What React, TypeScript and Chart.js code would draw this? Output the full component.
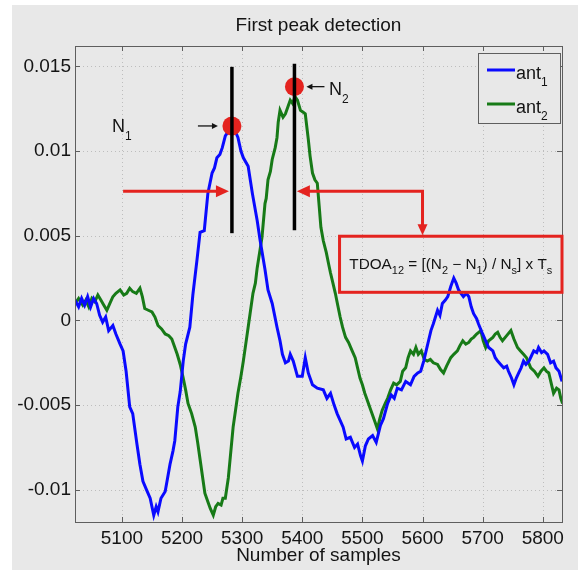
import React, { useEffect, useRef } from "react";
import { Chart, registerables } from "chart.js";

Chart.register(...registerables);

// ---------------- data ----------------
const ant1Samples = [5022,5028,5033,5038,5043,5048,5053,5058,5063,5068,5073,5078,5085,5090,5097,5102,5107,5113,5118,5125,5130,5135,5141,5147,5153,5157,5160,5165,5172,5176,5180,5185,5188,5193,5197,5202,5206,5213,5218,5225,5230,5237,5243,5250,5254,5258,5263,5267,5272,5278,5283,5288,5293,5298,5302,5310,5317,5325,5330,5338,5343,5350,5358,5363,5367,5372,5377,5380,5385,5392,5400,5405,5410,5417,5425,5435,5441,5447,5453,5458,5468,5473,5480,5487,5492,5497,5500,5505,5510,5517,5523,5530,5535,5542,5548,5553,5558,5565,5572,5580,5586,5592,5597,5602,5606,5610,5614,5618,5625,5629,5633,5638,5642,5647,5652,5656,5660,5664,5668,5673,5677,5681,5685,5690,5693,5700,5705,5710,5717,5721,5725,5730,5735,5740,5743,5748,5752,5756,5760,5764,5768,5772,5777,5781,5785,5790,5793,5798,5802,5808,5813,5818,5822,5827,5832];
const ant1Values = [0.0012,0.0008,0.0013,0.0009,0.0014,0.0008,0.0013,0.0010,0.0003,-0.0001,0.0002,-0.0006,-0.0003,-0.0008,-0.0014,-0.0018,-0.0030,-0.0051,-0.0055,-0.0073,-0.0085,-0.0095,-0.0100,-0.0105,-0.0115,-0.0110,-0.0113,-0.0105,-0.0101,-0.0093,-0.0085,-0.0077,-0.0071,-0.0051,-0.0042,-0.0024,-0.0014,-0.0004,0.0015,0.0036,0.0052,0.0053,0.0075,0.0087,0.0090,0.0096,0.0098,0.0102,0.0109,0.0112,0.0114,0.0112,0.0108,0.0100,0.0096,0.0091,0.0075,0.0059,0.0047,0.0030,0.0018,0.0010,-0.0004,-0.0012,-0.0020,-0.0025,-0.0024,-0.0020,-0.0024,-0.0033,-0.0033,-0.0022,-0.0031,-0.0038,-0.0040,-0.0041,-0.0046,-0.0043,-0.0050,-0.0055,-0.0063,-0.0070,-0.0069,-0.0075,-0.0073,-0.0080,-0.0083,-0.0074,-0.0070,-0.0068,-0.0072,-0.0062,-0.0058,-0.0049,-0.0044,-0.0046,-0.0040,-0.0041,-0.0036,-0.0038,-0.0033,-0.0031,-0.0030,-0.0024,-0.0018,-0.0012,-0.0006,-0.0002,0.0006,0.0003,0.0010,0.0012,0.0014,0.0020,0.0025,0.0022,0.0018,0.0016,0.0014,0.0016,0.0014,0.0008,0.0004,0.0001,-0.0002,-0.0008,-0.0012,-0.0016,-0.0018,-0.0022,-0.0024,-0.0026,-0.0028,-0.0027,-0.0030,-0.0034,-0.0038,-0.0034,-0.0031,-0.0028,-0.0024,-0.0026,-0.0024,-0.0021,-0.0018,-0.0019,-0.0016,-0.0019,-0.0018,-0.0020,-0.0025,-0.0024,-0.0028,-0.0030,-0.0036];

const ant2Samples = [5022,5028,5035,5040,5045,5050,5055,5060,5065,5070,5075,5080,5085,5090,5097,5103,5108,5113,5118,5124,5130,5134,5138,5144,5150,5155,5160,5166,5172,5178,5183,5187,5192,5197,5202,5206,5210,5216,5222,5226,5230,5234,5238,5243,5247,5252,5256,5260,5265,5268,5272,5277,5281,5285,5289,5293,5298,5302,5306,5310,5314,5318,5322,5325,5329,5333,5338,5340,5343,5347,5350,5355,5358,5360,5363,5368,5372,5376,5380,5384,5388,5392,5397,5401,5405,5410,5413,5417,5421,5425,5428,5431,5435,5440,5444,5447,5451,5455,5459,5463,5467,5472,5477,5483,5488,5492,5496,5500,5504,5508,5513,5517,5521,5525,5529,5533,5538,5542,5547,5552,5557,5563,5567,5572,5576,5580,5585,5589,5593,5598,5603,5608,5613,5618,5625,5630,5635,5640,5647,5652,5658,5662,5667,5672,5677,5681,5685,5690,5697,5701,5705,5710,5717,5721,5725,5729,5733,5740,5747,5752,5758,5763,5768,5773,5780,5786,5792,5797,5802,5806,5810,5814,5818,5823,5827,5830,5833];
const ant2Values = [0.0010,0.0013,0.0009,0.0012,0.0008,0.0013,0.0011,0.0015,0.0012,0.0009,0.0006,0.0010,0.0014,0.0016,0.0018,0.0015,0.0016,0.0019,0.0017,0.0016,0.0019,0.0014,0.0007,0.0006,0.0005,0.0002,-0.0003,-0.0005,-0.0008,-0.0009,-0.0011,-0.0015,-0.0020,-0.0026,-0.0034,-0.0041,-0.0049,-0.0055,-0.0063,-0.0072,-0.0082,-0.0092,-0.0102,-0.0107,-0.0111,-0.0115,-0.0110,-0.0108,-0.0109,-0.0105,-0.0105,-0.0093,-0.0078,-0.0063,-0.0053,-0.0043,-0.0033,-0.0024,-0.0014,-0.0004,0.0006,0.0016,0.0022,0.0031,0.0040,0.0049,0.0069,0.0072,0.0083,0.0088,0.0095,0.0102,0.0108,0.0117,0.0124,0.0120,0.0122,0.0126,0.0130,0.0128,0.0132,0.0130,0.0124,0.0123,0.0122,0.0107,0.0097,0.0087,0.0083,0.0081,0.0068,0.0055,0.0047,0.0040,0.0033,0.0028,0.0022,0.0016,0.0009,0.0002,-0.0004,-0.0010,-0.0013,-0.0018,-0.0022,-0.0028,-0.0034,-0.0038,-0.0043,-0.0047,-0.0052,-0.0056,-0.0060,-0.0064,-0.0058,-0.0053,-0.0049,-0.0046,-0.0041,-0.0037,-0.0038,-0.0036,-0.0030,-0.0028,-0.0022,-0.0018,-0.0020,-0.0016,-0.0020,-0.0018,-0.0023,-0.0024,-0.0023,-0.0025,-0.0026,-0.0029,-0.0031,-0.0027,-0.0022,-0.0020,-0.0018,-0.0015,-0.0012,-0.0014,-0.0013,-0.0011,-0.0010,-0.0008,-0.0006,-0.0012,-0.0016,-0.0012,-0.0010,-0.0008,-0.0007,-0.0010,-0.0012,-0.0009,-0.0006,-0.0011,-0.0016,-0.0018,-0.0020,-0.0022,-0.0028,-0.0030,-0.0033,-0.0030,-0.0028,-0.0030,-0.0031,-0.0037,-0.0043,-0.0040,-0.0041,-0.0046,-0.0049];

const xTickValues = [5100, 5200, 5300, 5400, 5500, 5600, 5700, 5800];
const yTickValues = [-0.01, -0.005, 0, 0.005, 0.01, 0.015];
const yTickLabels = ["-0.01", "-0.005", "0", "0.005", "0.01", "0.015"];
const seriesNames = ["ant", "ant"];
const seriesSubs = ["1", "2"];

// annotation anchors (data space)
const peakSamples = [5283, 5387];
const peakValues = [0.01148, 0.0138];
const markerTops = [0.01497, 0.01515];
const markerBottoms = [0.00515, 0.00533];
const arrowLevel = 0.00763;
const leftArrowFrom = 5102;
const leftArrowTo = 5278;
const rightArrowTo = 5391;
const arrowCorner = 5600;
const boxLeft = 5462;
const boxRight = 5832;
const boxTop = 0.00497;
const boxBottom = 0.00166;

const X_MIN = 5022;
const X_MAX = 5832;
const Y_MIN = -0.0119;
const Y_MAX = 0.0162;

const FONT = "'Liberation Sans', Arial, 'DejaVu Sans', sans-serif";
const BG = "#e8e8e8";
const BLUE = "#0a0aff";
const GREEN = "#177a17";
const RED = "#e4231f";
const TEXT = "#141414";

type Part = [string, boolean];

function richWidth(ctx: CanvasRenderingContext2D, parts: Part[], size: number, subSize: number) {
  let w = 0;
  for (const [t, sub] of parts) {
    ctx.font = `${sub ? subSize : size}px ${FONT}`;
    w += ctx.measureText(t).width;
  }
  return w;
}

function drawRich(
  ctx: CanvasRenderingContext2D,
  parts: Part[],
  x: number,
  y: number,
  size: number,
  subSize: number,
  subDrop: number,
  color: string
) {
  ctx.save();
  ctx.fillStyle = color;
  ctx.textBaseline = "alphabetic";
  ctx.textAlign = "left";
  let cx = x;
  for (const [t, sub] of parts) {
    ctx.font = `${sub ? subSize : size}px ${FONT}`;
    ctx.fillText(t, cx, sub ? y + subDrop : y);
    cx += ctx.measureText(t).width;
  }
  ctx.restore();
}

function arrowHead(ctx: CanvasRenderingContext2D, tx: number, ty: number, dx: number, dy: number, len: number, half: number) {
  const px = -dy, py = dx;
  ctx.beginPath();
  ctx.moveTo(tx, ty);
  ctx.lineTo(tx - dx * len + px * half, ty - dy * len + py * half);
  ctx.lineTo(tx - dx * len - px * half, ty - dy * len - py * half);
  ctx.closePath();
  ctx.fill();
}

const figurePlugin = {
  id: "figure",
  beforeDraw(chart: any) {
    const ctx = chart.ctx as CanvasRenderingContext2D;
    ctx.save();
    ctx.fillStyle = "#ffffff";
    ctx.fillRect(0, 0, chart.width, chart.height);
    ctx.fillStyle = BG;
    ctx.fillRect(12, 5, chart.width - 12, chart.height - 5);
    ctx.restore();
  },
  beforeDatasetsDraw(chart: any) {
    const ctx = chart.ctx as CanvasRenderingContext2D;
    const { left, right, top, bottom } = chart.chartArea;
    const xs = chart.scales.x, ys = chart.scales.y;
    ctx.save();
    ctx.strokeStyle = "#bdbdbd";
    ctx.lineWidth = 1;
    ctx.setLineDash([1, 3]);
    for (const v of xTickValues) {
      const px = Math.round(xs.getPixelForValue(v)) + 0.5;
      ctx.beginPath();
      ctx.moveTo(px, top);
      ctx.lineTo(px, bottom);
      ctx.stroke();
    }
    for (const v of yTickValues) {
      const py = Math.round(ys.getPixelForValue(v)) + 0.5;
      ctx.beginPath();
      ctx.moveTo(left, py);
      ctx.lineTo(right, py);
      ctx.stroke();
    }
    ctx.restore();
  },
  afterDatasetsDraw(chart: any) {
    const ctx = chart.ctx as CanvasRenderingContext2D;
    const { left, right, top, bottom } = chart.chartArea;
    const xs = chart.scales.x, ys = chart.scales.y;
    const X = (v: number) => xs.getPixelForValue(v);
    const Y = (v: number) => ys.getPixelForValue(v);
    ctx.save();

    // axes box + ticks
    ctx.strokeStyle = "#5e5e5e";
    ctx.lineWidth = 1;
    ctx.setLineDash([]);
    ctx.strokeRect(Math.round(left) + 0.5, Math.round(top) + 0.5, Math.round(right - left), Math.round(bottom - top));
    ctx.beginPath();
    for (const v of xTickValues) {
      const px = Math.round(X(v)) + 0.5;
      ctx.moveTo(px, bottom); ctx.lineTo(px, bottom - 5);
      ctx.moveTo(px, top); ctx.lineTo(px, top + 5);
    }
    for (const v of yTickValues) {
      const py = Math.round(Y(v)) + 0.5;
      ctx.moveTo(left, py); ctx.lineTo(left + 5, py);
      ctx.moveTo(right, py); ctx.lineTo(right - 5, py);
    }
    ctx.stroke();

    // red peak dots
    ctx.fillStyle = RED;
    for (let i = 0; i < peakSamples.length; i++) {
      ctx.beginPath();
      ctx.arc(X(peakSamples[i]), Y(peakValues[i]), 9.5, 0, Math.PI * 2);
      ctx.fill();
    }
    // black marker lines
    ctx.strokeStyle = "#000000";
    ctx.lineWidth = 3.5;
    for (let i = 0; i < peakSamples.length; i++) {
      ctx.beginPath();
      ctx.moveTo(X(peakSamples[i]), Y(markerTops[i]));
      ctx.lineTo(X(peakSamples[i]), Y(markerBottoms[i]));
      ctx.stroke();
    }

    // red arrows
    ctx.strokeStyle = RED;
    ctx.fillStyle = RED;
    ctx.lineWidth = 3;
    const ay = Y(arrowLevel);
    ctx.beginPath();
    ctx.moveTo(X(leftArrowFrom), ay);
    ctx.lineTo(X(leftArrowTo) - 8, ay);
    ctx.stroke();
    arrowHead(ctx, X(leftArrowTo), ay, 1, 0, 13, 6);
    ctx.beginPath();
    ctx.moveTo(X(arrowCorner), Y(boxTop) - 8);
    ctx.lineTo(X(arrowCorner), ay);
    ctx.lineTo(X(rightArrowTo) + 8, ay);
    ctx.stroke();
    arrowHead(ctx, X(rightArrowTo), ay, -1, 0, 13, 6);
    arrowHead(ctx, X(arrowCorner), Y(boxTop) - 1, 0, 1, 11, 5);

    // red box with formula
    const bx0 = X(boxLeft), bx1 = X(boxRight), by0 = Y(boxTop), by1 = Y(boxBottom);
    ctx.strokeRect(bx0, by0, bx1 - bx0, by1 - by0);
    const formula: Part[] = [
      ["TDOA", false], ["12", true], [" = [(N", false], ["2", true], [" \u2212 N", false], ["1", true],
      [") / N", false], ["s", true], ["] x T", false], ["s", true],
    ];
    const fsize = 14, fsub = 10;
    const fw = richWidth(ctx, formula, fsize, fsub);
    const targetW = 203;
    const sx = targetW / fw;
    ctx.save();
    ctx.translate((bx0 + bx1) / 2 - targetW / 2, (by0 + by1) / 2 + 5);
    ctx.scale(sx, 1);
    drawRich(ctx, formula, 0, 0, fsize, fsub, 5, TEXT);
    ctx.restore();

    // N labels and small arrows
    drawRich(ctx, [["N", false], ["1", true]], 112, 132, 18, 12, 8, TEXT);
    drawRich(ctx, [["N", false], ["2", true]], 329, 95, 18, 12, 8, TEXT);
    ctx.strokeStyle = TEXT;
    ctx.fillStyle = TEXT;
    ctx.lineWidth = 1.3;
    const d1x = X(peakSamples[0]), d1y = Y(peakValues[0]);
    ctx.beginPath();
    ctx.moveTo(d1x - 34, d1y); ctx.lineTo(d1x - 17, d1y);
    ctx.stroke();
    arrowHead(ctx, d1x - 14, d1y, 1, 0, 6, 3);
    const d2x = X(peakSamples[1]), d2y = Y(peakValues[1]);
    ctx.beginPath();
    ctx.moveTo(d2x + 30, d2y); ctx.lineTo(d2x + 15, d2y);
    ctx.stroke();
    arrowHead(ctx, d2x + 12, d2y, -1, 0, 6, 3);

    // legend
    const lx0 = 478, ly0 = 53, lx1 = 560, ly1 = 123;
    ctx.fillStyle = BG;
    ctx.fillRect(lx0, ly0, lx1 - lx0, ly1 - ly0);
    ctx.strokeStyle = "#5e5e5e";
    ctx.lineWidth = 1;
    ctx.strokeRect(lx0 + 0.5, ly0 + 0.5, lx1 - lx0, ly1 - ly0);
    const colors = [BLUE, GREEN];
    const lineYs = [70, 104];
    const baseYs = [79, 113];
    for (let i = 0; i < 2; i++) {
      ctx.strokeStyle = colors[i];
      ctx.lineWidth = 3;
      ctx.beginPath();
      ctx.moveTo(487, lineYs[i]);
      ctx.lineTo(515, lineYs[i]);
      ctx.stroke();
      drawRich(ctx, [[seriesNames[i], false], [seriesSubs[i], true]], 516, baseYs[i], 18, 12, 7, TEXT);
    }

    // title and x label
    ctx.fillStyle = TEXT;
    ctx.textAlign = "center";
    ctx.textBaseline = "alphabetic";
    ctx.font = `19px ${FONT}`;
    ctx.fillText("First peak detection", (left + right) / 2, 31);
    ctx.fillText("Number of samples", (left + right) / 2, 561);
    ctx.restore();
  },
};

export default function App() {
  const ref = useRef<HTMLCanvasElement | null>(null);
  useEffect(() => {
    if (!ref.current) return;
    const chart = new Chart(ref.current, {
      type: "line",
      data: {
        datasets: [
          {
            label: "ant1",
            data: ant1Samples.map((s, i) => ({ x: s, y: ant1Values[i] })),
            borderColor: BLUE,
            borderWidth: 3,
            pointRadius: 0,
            tension: 0,
            fill: false,
          },
          {
            label: "ant2",
            data: ant2Samples.map((s, i) => ({ x: s, y: ant2Values[i] })),
            borderColor: GREEN,
            borderWidth: 3,
            pointRadius: 0,
            tension: 0,
            fill: false,
          },
        ],
      },
      options: {
        animation: false,
        responsive: false,
        maintainAspectRatio: false,
        events: [],
        layout: { padding: { left: 0, right: 16, top: 46, bottom: 0 } },
        plugins: { legend: { display: false }, title: { display: false }, tooltip: { enabled: false } },
        scales: {
          x: {
            type: "linear",
            min: X_MIN,
            max: X_MAX,
            grid: { display: false, drawTicks: false, tickLength: 0 },
            border: { display: false },
            afterBuildTicks: (s: any) => { s.ticks = xTickValues.map((v) => ({ value: v })); },
            afterFit: (s: any) => { s.height = 48; },
            ticks: {
              padding: 5,
              color: TEXT,
              font: { family: FONT, size: 19 },
              maxRotation: 0,
              autoSkip: false,
              callback: (v: any) => String(v),
            },
          },
          y: {
            type: "linear",
            min: Y_MIN,
            max: Y_MAX,
            grid: { display: false, drawTicks: false, tickLength: 0 },
            border: { display: false },
            afterBuildTicks: (s: any) => { s.ticks = yTickValues.map((v) => ({ value: v })); },
            afterFit: (s: any) => { s.width = 75; },
            ticks: {
              padding: 4,
              color: TEXT,
              font: { family: FONT, size: 19 },
              autoSkip: false,
              callback: (v: any) => {
                const i = yTickValues.findIndex((t) => Math.abs(t - v) < 1e-9);
                return i >= 0 ? yTickLabels[i] : "";
              },
            },
          },
        },
      },
      plugins: [figurePlugin],
    });
    return () => chart.destroy();
  }, []);
  return (
    <div style={{ position: "fixed", left: 0, top: 0, width: 578, height: 570 }}>
      <canvas ref={ref} width={578} height={570} style={{ display: "block" }} />
    </div>
  );
}
